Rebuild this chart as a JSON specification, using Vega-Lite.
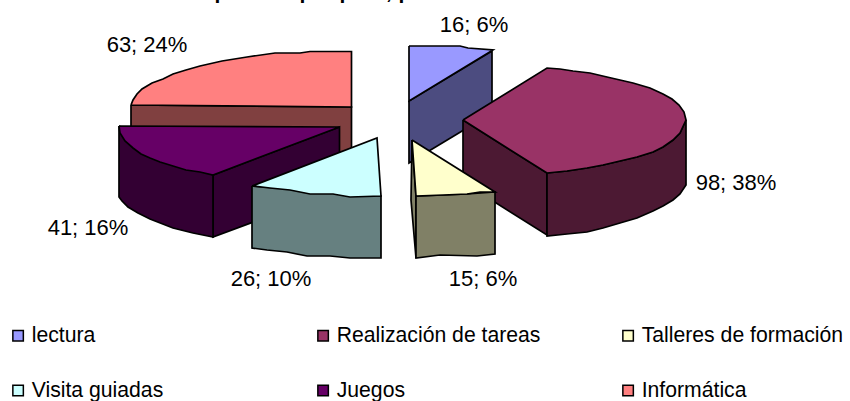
{"$schema":"https://vega.github.io/schema/vega-lite/v6.json","width":850,"height":401,"padding":0,"autosize":"none","background":"white",
"config":{"view":{"stroke":null},"font":"Liberation Sans"},
"layer":[
{"data":{"values":[
{"p":"inf_lado","s":"Informática lado","o":1,"x":131,"y":105},{"p":"inf_lado","s":"Informática lado","o":2,"x":351.5,"y":107},{"p":"inf_lado","s":"Informática lado","o":3,"x":351.5,"y":155},{"p":"inf_lado","s":"Informática lado","o":4,"x":131,"y":155},{"p":"inf_lado","s":"Informática lado","o":5,"x":131,"y":105},
{"p":"inf","s":"Informática","o":1,"x":131,"y":105},{"p":"inf","s":"Informática","o":2,"x":133,"y":100},{"p":"inf","s":"Informática","o":3,"x":137,"y":94},{"p":"inf","s":"Informática","o":4,"x":142,"y":89},{"p":"inf","s":"Informática","o":5,"x":152,"y":83},{"p":"inf","s":"Informática","o":6,"x":163,"y":79},{"p":"inf","s":"Informática","o":7,"x":173,"y":74},{"p":"inf","s":"Informática","o":8,"x":186,"y":70},{"p":"inf","s":"Informática","o":9,"x":200,"y":66},{"p":"inf","s":"Informática","o":10,"x":222,"y":61},{"p":"inf","s":"Informática","o":11,"x":247,"y":57},{"p":"inf","s":"Informática","o":12,"x":275,"y":53},{"p":"inf","s":"Informática","o":13,"x":300,"y":53},{"p":"inf","s":"Informática","o":14,"x":310,"y":51.5},{"p":"inf","s":"Informática","o":15,"x":351.5,"y":51.5},{"p":"inf","s":"Informática","o":16,"x":351.5,"y":107},{"p":"inf","s":"Informática","o":17,"x":131,"y":105},
{"p":"jue_der","s":"Juegos lado","o":1,"x":213,"y":175},{"p":"jue_der","s":"Juegos lado","o":2,"x":339.5,"y":127},{"p":"jue_der","s":"Juegos lado","o":3,"x":339.5,"y":190},{"p":"jue_der","s":"Juegos lado","o":4,"x":213,"y":237},{"p":"jue_der","s":"Juegos lado","o":5,"x":213,"y":175},
{"p":"jue_izq","s":"Juegos lado","o":1,"x":119,"y":126},{"p":"jue_izq","s":"Juegos lado","o":2,"x":213,"y":175},{"p":"jue_izq","s":"Juegos lado","o":3,"x":213,"y":237},{"p":"jue_izq","s":"Juegos lado","o":4,"x":193,"y":233},{"p":"jue_izq","s":"Juegos lado","o":5,"x":173,"y":228},{"p":"jue_izq","s":"Juegos lado","o":6,"x":150,"y":219},{"p":"jue_izq","s":"Juegos lado","o":7,"x":138,"y":213},{"p":"jue_izq","s":"Juegos lado","o":8,"x":128,"y":207},{"p":"jue_izq","s":"Juegos lado","o":9,"x":122,"y":201},{"p":"jue_izq","s":"Juegos lado","o":10,"x":119,"y":197},{"p":"jue_izq","s":"Juegos lado","o":11,"x":119,"y":126},
{"p":"jue","s":"Juegos","o":1,"x":119,"y":126},{"p":"jue","s":"Juegos","o":2,"x":339.5,"y":127},{"p":"jue","s":"Juegos","o":3,"x":213,"y":175},{"p":"jue","s":"Juegos","o":4,"x":200,"y":172},{"p":"jue","s":"Juegos","o":5,"x":186,"y":170},{"p":"jue","s":"Juegos","o":6,"x":173,"y":166},{"p":"jue","s":"Juegos","o":7,"x":160,"y":162},{"p":"jue","s":"Juegos","o":8,"x":150,"y":158},{"p":"jue","s":"Juegos","o":9,"x":141,"y":154},{"p":"jue","s":"Juegos","o":10,"x":133,"y":148},{"p":"jue","s":"Juegos","o":11,"x":125,"y":141},{"p":"jue","s":"Juegos","o":12,"x":120,"y":133},{"p":"jue","s":"Juegos","o":13,"x":119,"y":126},
{"p":"vis_lado","s":"Visita guiadas lado","o":1,"x":252,"y":186},{"p":"vis_lado","s":"Visita guiadas lado","o":2,"x":252,"y":248},{"p":"vis_lado","s":"Visita guiadas lado","o":3,"x":267,"y":250},{"p":"vis_lado","s":"Visita guiadas lado","o":4,"x":287,"y":252},{"p":"vis_lado","s":"Visita guiadas lado","o":5,"x":307,"y":256},{"p":"vis_lado","s":"Visita guiadas lado","o":6,"x":330,"y":256},{"p":"vis_lado","s":"Visita guiadas lado","o":7,"x":350,"y":258},{"p":"vis_lado","s":"Visita guiadas lado","o":8,"x":381,"y":258},{"p":"vis_lado","s":"Visita guiadas lado","o":9,"x":381,"y":196},{"p":"vis_lado","s":"Visita guiadas lado","o":10,"x":252,"y":186},
{"p":"vis","s":"Visita guiadas","o":1,"x":252,"y":186},{"p":"vis","s":"Visita guiadas","o":2,"x":377,"y":138},{"p":"vis","s":"Visita guiadas","o":3,"x":381,"y":196},{"p":"vis","s":"Visita guiadas","o":4,"x":350,"y":197},{"p":"vis","s":"Visita guiadas","o":5,"x":333,"y":194},{"p":"vis","s":"Visita guiadas","o":6,"x":310,"y":194},{"p":"vis","s":"Visita guiadas","o":7,"x":290,"y":190},{"p":"vis","s":"Visita guiadas","o":8,"x":270,"y":188},{"p":"vis","s":"Visita guiadas","o":9,"x":252,"y":186},
{"p":"lec_lado","s":"lectura lado","o":1,"x":409,"y":101},{"p":"lec_lado","s":"lectura lado","o":2,"x":492,"y":51},{"p":"lec_lado","s":"lectura lado","o":3,"x":492,"y":113},{"p":"lec_lado","s":"lectura lado","o":4,"x":409,"y":163},{"p":"lec_lado","s":"lectura lado","o":5,"x":409,"y":101},
{"p":"lec","s":"lectura","o":1,"x":409,"y":46},{"p":"lec","s":"lectura","o":2,"x":460,"y":46},{"p":"lec","s":"lectura","o":3,"x":468,"y":48},{"p":"lec","s":"lectura","o":4,"x":493,"y":50},{"p":"lec","s":"lectura","o":5,"x":409,"y":101},{"p":"lec","s":"lectura","o":6,"x":409,"y":46},
{"p":"rea_izq","s":"Realización de tareas lado","o":1,"x":463,"y":120},{"p":"rea_izq","s":"Realización de tareas lado","o":2,"x":547,"y":173},{"p":"rea_izq","s":"Realización de tareas lado","o":3,"x":547,"y":235},{"p":"rea_izq","s":"Realización de tareas lado","o":4,"x":463,"y":182},{"p":"rea_izq","s":"Realización de tareas lado","o":5,"x":463,"y":120},
{"p":"rea_der","s":"Realización de tareas lado","o":1,"x":547,"y":173},{"p":"rea_der","s":"Realización de tareas lado","o":2,"x":567,"y":171},{"p":"rea_der","s":"Realización de tareas lado","o":3,"x":587,"y":168},{"p":"rea_der","s":"Realización de tareas lado","o":4,"x":603,"y":165},{"p":"rea_der","s":"Realización de tareas lado","o":5,"x":620,"y":161},{"p":"rea_der","s":"Realización de tareas lado","o":6,"x":637,"y":157},{"p":"rea_der","s":"Realización de tareas lado","o":7,"x":653,"y":152},{"p":"rea_der","s":"Realización de tareas lado","o":8,"x":663,"y":147},{"p":"rea_der","s":"Realización de tareas lado","o":9,"x":673,"y":140},{"p":"rea_der","s":"Realización de tareas lado","o":10,"x":680,"y":133},{"p":"rea_der","s":"Realización de tareas lado","o":11,"x":686,"y":120},{"p":"rea_der","s":"Realización de tareas lado","o":12,"x":686,"y":185},{"p":"rea_der","s":"Realización de tareas lado","o":13,"x":680,"y":194},{"p":"rea_der","s":"Realización de tareas lado","o":14,"x":673,"y":200},{"p":"rea_der","s":"Realización de tareas lado","o":15,"x":663,"y":206},{"p":"rea_der","s":"Realización de tareas lado","o":16,"x":653,"y":211},{"p":"rea_der","s":"Realización de tareas lado","o":17,"x":637,"y":218},{"p":"rea_der","s":"Realización de tareas lado","o":18,"x":620,"y":223},{"p":"rea_der","s":"Realización de tareas lado","o":19,"x":603,"y":228},{"p":"rea_der","s":"Realización de tareas lado","o":20,"x":587,"y":232},{"p":"rea_der","s":"Realización de tareas lado","o":21,"x":567,"y":234},{"p":"rea_der","s":"Realización de tareas lado","o":22,"x":547,"y":236},{"p":"rea_der","s":"Realización de tareas lado","o":23,"x":547,"y":173},
{"p":"rea","s":"Realización de tareas","o":1,"x":463,"y":120},{"p":"rea","s":"Realización de tareas","o":2,"x":547,"y":68},{"p":"rea","s":"Realización de tareas","o":3,"x":560,"y":69},{"p":"rea","s":"Realización de tareas","o":4,"x":573,"y":71},{"p":"rea","s":"Realización de tareas","o":5,"x":590,"y":73},{"p":"rea","s":"Realización de tareas","o":6,"x":607,"y":77},{"p":"rea","s":"Realización de tareas","o":7,"x":620,"y":80},{"p":"rea","s":"Realización de tareas","o":8,"x":633,"y":83},{"p":"rea","s":"Realización de tareas","o":9,"x":650,"y":88},{"p":"rea","s":"Realización de tareas","o":10,"x":663,"y":94},{"p":"rea","s":"Realización de tareas","o":11,"x":672,"y":99},{"p":"rea","s":"Realización de tareas","o":12,"x":679,"y":105},{"p":"rea","s":"Realización de tareas","o":13,"x":684,"y":112},{"p":"rea","s":"Realización de tareas","o":14,"x":686,"y":120},{"p":"rea","s":"Realización de tareas","o":15,"x":680,"y":133},{"p":"rea","s":"Realización de tareas","o":16,"x":673,"y":140},{"p":"rea","s":"Realización de tareas","o":17,"x":663,"y":147},{"p":"rea","s":"Realización de tareas","o":18,"x":653,"y":152},{"p":"rea","s":"Realización de tareas","o":19,"x":637,"y":157},{"p":"rea","s":"Realización de tareas","o":20,"x":620,"y":161},{"p":"rea","s":"Realización de tareas","o":21,"x":603,"y":165},{"p":"rea","s":"Realización de tareas","o":22,"x":587,"y":168},{"p":"rea","s":"Realización de tareas","o":23,"x":567,"y":171},{"p":"rea","s":"Realización de tareas","o":24,"x":547,"y":173},{"p":"rea","s":"Realización de tareas","o":25,"x":463,"y":120},
{"p":"tal_izq","s":"Talleres de formación lado","o":1,"x":412,"y":140},{"p":"tal_izq","s":"Talleres de formación lado","o":2,"x":416,"y":196},{"p":"tal_izq","s":"Talleres de formación lado","o":3,"x":416,"y":258},{"p":"tal_izq","s":"Talleres de formación lado","o":4,"x":411,"y":200},{"p":"tal_izq","s":"Talleres de formación lado","o":5,"x":412,"y":140},
{"p":"tal_lado","s":"Talleres de formación lado","o":1,"x":416,"y":196},{"p":"tal_lado","s":"Talleres de formación lado","o":2,"x":443,"y":195},{"p":"tal_lado","s":"Talleres de formación lado","o":3,"x":467,"y":194},{"p":"tal_lado","s":"Talleres de formación lado","o":4,"x":495,"y":192},{"p":"tal_lado","s":"Talleres de formación lado","o":5,"x":495,"y":254},{"p":"tal_lado","s":"Talleres de formación lado","o":6,"x":477,"y":256},{"p":"tal_lado","s":"Talleres de formación lado","o":7,"x":440,"y":255},{"p":"tal_lado","s":"Talleres de formación lado","o":8,"x":416,"y":258},{"p":"tal_lado","s":"Talleres de formación lado","o":9,"x":416,"y":196},
{"p":"tal","s":"Talleres de formación","o":1,"x":412,"y":140},{"p":"tal","s":"Talleres de formación","o":2,"x":495,"y":192},{"p":"tal","s":"Talleres de formación","o":3,"x":480,"y":192},{"p":"tal","s":"Talleres de formación","o":4,"x":467,"y":194},{"p":"tal","s":"Talleres de formación","o":5,"x":443,"y":195},{"p":"tal","s":"Talleres de formación","o":6,"x":416,"y":196},{"p":"tal","s":"Talleres de formación","o":7,"x":412,"y":140}
]},
"mark":{"type":"line","filled":true,"stroke":"black","strokeWidth":1.7,"strokeJoin":"miter","interpolate":"linear"},
"encoding":{
"x":{"field":"x","type":"quantitative","axis":null,"scale":{"domain":[0,850],"nice":false,"zero":false}},
"y":{"field":"y","type":"quantitative","axis":null,"scale":{"domain":[401,0],"nice":false,"zero":false}},
"detail":{"field":"p"},
"order":{"field":"o","type":"quantitative"},
"color":{"field":"s","type":"nominal","title":null,
"scale":{"domain":["lectura","Realización de tareas","Talleres de formación","Visita guiadas","Juegos","Informática","lectura lado","Realización de tareas lado","Talleres de formación lado","Visita guiadas lado","Juegos lado","Informática lado"],
"range":["#9999FF","#993366","#FFFFCC","#CCFFFF","#660066","#FF8080","#4C4C80","#4C1933","#808066","#668080","#330033","#804040"]},
"legend":{"values":["lectura","Realización de tareas","Talleres de formación","Visita guiadas","Juegos","Informática"],"orient":"none","direction":"horizontal","legendX":7.5,"legendY":325,"columns":3,"gridAlign":"all","columnPadding":77,"rowPadding":33,"labelFontSize":21.2,"labelFont":"Liberation Sans","labelColor":"black","labelLimit":400,"symbolType":"square","symbolSize":110,"symbolStrokeColor":"black","symbolStrokeWidth":1.5,"symbolOpacity":1,"labelOffset":3}}
}},
{"data":{"values":[
{"t":"16; 6%","x":474,"y":32},{"t":"98; 38%","x":736,"y":190},{"t":"15; 6%","x":483,"y":286},{"t":"26; 10%","x":271,"y":286},{"t":"41; 16%","x":88,"y":235},{"t":"63; 24%","x":147,"y":52}
]},
"mark":{"type":"text","fontSize":22,"font":"Liberation Sans","color":"black","align":"center","baseline":"alphabetic"},
"encoding":{"x":{"field":"x","type":"quantitative","axis":null},"y":{"field":"y","type":"quantitative","axis":null},"text":{"field":"t"}}},
{"data":{"values":[
{"t":"p","x":221},{"t":"q","x":299},{"t":"p","x":346},{"t":",","x":389},{"t":"p","x":405}
]},
"mark":{"type":"text","fontSize":21,"fontWeight":"bold","font":"Liberation Sans","color":"black","align":"center","baseline":"alphabetic"},
"encoding":{"x":{"field":"x","type":"quantitative","axis":null},"y":{"datum":-1,"type":"quantitative","axis":null},"text":{"field":"t"}}}
]}
